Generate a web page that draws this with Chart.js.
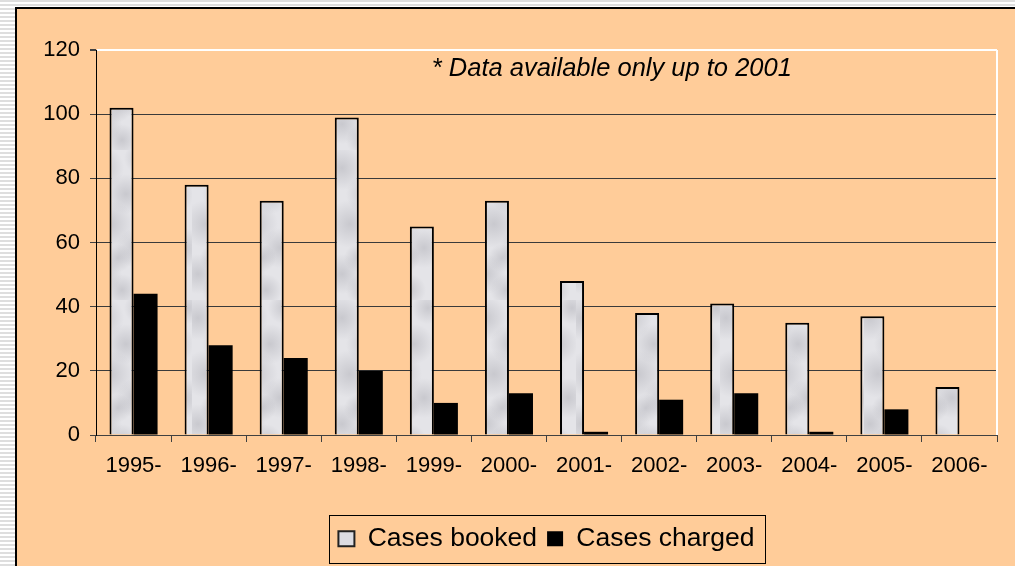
<!DOCTYPE html>
<html>
<head>
<meta charset="utf-8">
<script src="https://cdn.jsdelivr.net/npm/chart.js@4/dist/chart.umd.min.js"></script>
<style>
  html, body { margin: 0; padding: 0; background: #fff; }
  #chart { display: block; }
</style>
</head>
<body>
<canvas id="chart" width="1015" height="566"></canvas>
<script>
// Data
const years = ["1995-", "1996-", "1997-", "1998-", "1999-", "2000-", "2001-", "2002-", "2003-", "2004-", "2005-", "2006-"];
const casesBooked = [102, 78, 73, 99, 65, 73, 48, 38, 41, 35, 37, 15];
const casesCharged = [44, 28, 24, 20, 10, 13, 1, 11, 13, 1, 8, null];
const yTicks = [0, 20, 40, 60, 80, 100, 120];
const noteText = "* Data available only up to 2001";

const canvas = document.getElementById("chart");
const ctx = canvas.getContext("2d");

// gray marble look for the booked bars
function marblePattern() {
  const c = document.createElement("canvas");
  c.width = 48;
  c.height = 150;
  const g = c.getContext("2d");
  g.fillStyle = "#e4e4e8";
  g.fillRect(0, 0, c.width, c.height);
  const spots = [
    [6, 18, 22], [30, 44, 20], [14, 74, 24], [40, 98, 20],
    [6, 124, 20], [26, 140, 16], [44, 8, 16], [22, 108, 14]
  ];
  spots.forEach(function (s) {
    const rg = g.createRadialGradient(s[0], s[1], 0, s[0], s[1], s[2]);
    rg.addColorStop(0, "rgba(160,160,168,0.4)");
    rg.addColorStop(1, "rgba(160,160,168,0)");
    g.fillStyle = rg;
    g.fillRect(s[0] - s[2], s[1] - s[2], s[2] * 2, s[2] * 2);
  });
  return ctx.createPattern(c, "repeat");
}
const marble = marblePattern();

// background frame, stripes, note text, legend box, plot border
const framePlugin = {
  id: "frame",
  beforeDraw(chart) {
    const c = chart.ctx;
    const w = chart.width, h = chart.height;
    c.save();
    c.fillStyle = "#ffffff";
    c.fillRect(0, 0, w, h);
    c.fillStyle = "#dedede";
    for (let y = 0; y < h; y += 4) c.fillRect(0, y, w, 2);
    c.fillStyle = "#ffcc99";
    c.fillRect(16, 7, w - 16, h - 7);
    c.fillStyle = "#000";
    c.fillRect(15, 7, 2, h - 7);
    c.fillRect(15, 7, w - 15, 2);
    c.restore();
  },
  afterDraw(chart) {
    const c = chart.ctx;
    const area = chart.chartArea;
    const xs = chart.scales.x, ys = chart.scales.y;
    c.save();
    // white right border of plot area
    c.strokeStyle = "#ffffff";
    c.lineWidth = 2;
    c.beginPath();
    c.moveTo(area.right, area.top);
    c.lineTo(area.right, area.bottom);
    c.stroke();
    // note
    c.font = "italic 25.5px 'Liberation Sans', Arial, sans-serif";
    c.fillStyle = "#000";
    c.textAlign = "center";
    c.textBaseline = "middle";
    c.fillText(noteText, xs.getPixelForValue(6.37), ys.getPixelForValue(114));
    // legend box
    const hb = chart.legend.legendHitBoxes;
    if (hb && hb.length) {
      const first = hb[0], last = hb[hb.length - 1];
      const cy = first.top + first.height / 2;
      c.strokeStyle = "#000";
      c.lineWidth = 1;
      c.strokeRect(Math.round(first.left - 9) + 0.5, Math.round(cy - 24) + 0.5,
        Math.round(last.left + last.width - first.left + 20), 48);
    }
    c.restore();
  }
};

new Chart(ctx, {
  type: "bar",
  data: {
    labels: years,
    datasets: [
      {
        label: "Cases booked",
        data: casesBooked,
        backgroundColor: marble,
        borderColor: "#000",
        borderWidth: 2,
        categoryPercentage: 0.64,
        barPercentage: 1.0,
      },
      {
        label: "Cases charged",
        data: casesCharged,
        backgroundColor: "#000",
        borderWidth: 0,
        categoryPercentage: 0.64,
        barPercentage: 1.0,
      },
    ],
  },
  options: {
    responsive: false,
    animation: false,
    devicePixelRatio: 1,
    layout: { padding: { left: 16, right: 18, top: 50, bottom: 4 } },
    plugins: {
      legend: {
        position: "bottom",
        fullSize: false,
        labels: {
          color: "#000",
          font: { family: "'Liberation Sans', Arial, sans-serif", size: 26.5 },
          boxWidth: 16,
          boxHeight: 15,
          padding: 10,
          generateLabels(chart) {
            const items = Chart.defaults.plugins.legend.labels.generateLabels(chart);
            items[0].fillStyle = "#dcdce2";
            items[0].strokeStyle = "#222";
            items[0].lineWidth = 2;
            return items;
          },
        },
      },
      tooltip: { enabled: false },
    },
    scales: {
      x: {
        afterFit(scale) { scale.height = 80.5; },
        grid: {
          offset: true,
          drawOnChartArea: false,
          drawTicks: true,
          tickLength: 7,
          color: "#404040",
        },
        border: { color: "#404040", width: 1 },
        ticks: {
          color: "#000",
          padding: 11,
          maxRotation: 0,
          font: { family: "'Liberation Sans', Arial, sans-serif", size: 22 },
        },
      },
      y: {
        min: 0,
        max: 120,
        afterFit(scale) { scale.width = 80; },
        afterBuildTicks(scale) { scale.ticks = yTicks.map(v => ({ value: v })); },
        grid: {
          color: (c) => (c.tick && c.tick.value === 120 ? "#ffffff" : "#3a3a3a"),
          lineWidth: (c) => (c.tick && c.tick.value === 120 ? 2 : 1),
          tickColor: "#404040",
          tickLength: 6,
        },
        border: { color: "#000", width: 1 },
        ticks: {
          color: "#000",
          padding: 10,
          font: { family: "'Liberation Sans', Arial, sans-serif", size: 22 },
        },
      },
    },
  },
  plugins: [framePlugin],
});
</script>
</body>
</html>
